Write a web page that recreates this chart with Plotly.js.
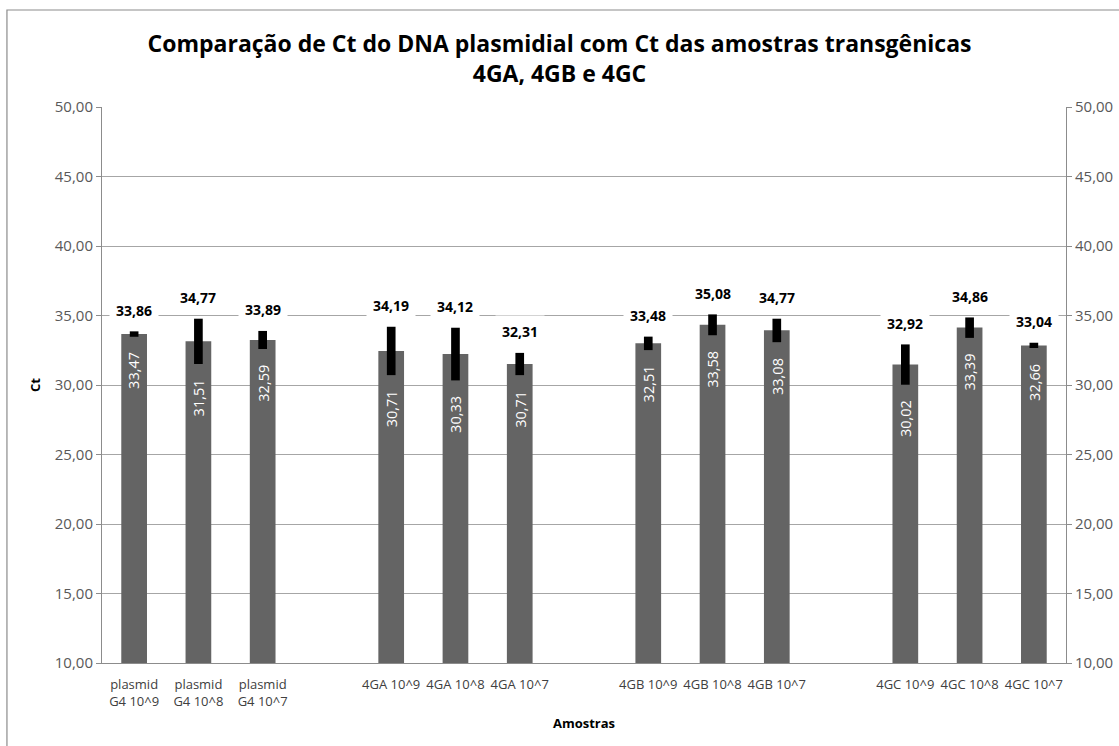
<!DOCTYPE html>
<html>
<head>
<meta charset="utf-8">
<script src="https://cdn.plot.ly/plotly-3.0.1.min.js"></script>
<style>
  body { margin: 0; background: #fff; }
  #chart { width: 1119px; height: 746px; }
</style>
</head>
<body>
<div id="chart"></div>
<script>
// ---- data ----
const categories = [
  "plasmid<br>G4 10^9", "plasmid<br>G4 10^8", "plasmid<br>G4 10^7",
  "4GA 10^9", "4GA 10^8", "4GA 10^7",
  "4GB 10^9", "4GB 10^8", "4GB 10^7",
  "4GC 10^9", "4GC 10^8", "4GC 10^7"
];
const ctMean = [33.67, 33.14, 33.24, 32.45, 32.23, 31.51, 33.00, 34.33, 33.93, 31.47, 34.13, 32.85];
const ctMin  = [33.47, 31.51, 32.59, 30.71, 30.33, 30.71, 32.51, 33.58, 33.08, 30.02, 33.39, 32.66];
const ctMax  = [33.86, 34.77, 33.89, 34.19, 34.12, 32.31, 33.48, 35.08, 34.77, 32.92, 34.86, 33.04];
const yTicks = [10, 15, 20, 25, 30, 35, 40, 45, 50];
const yBase = 10;

// positions: groups of three with an empty slot between groups
const pos = categories.map((c, i) => i + Math.floor(i / 3));
const fmt = v => v.toFixed(2).replace('.', ',');

const FONT = '"Open Sans", "Noto Sans", sans-serif';
const GRID = '#a6a6a6';
const AXIS = '#8c8c8c';

const meanBars = {
  type: 'bar', x: pos, base: yBase, y: ctMean.map(v => v - yBase),
  width: 0.4, marker: { color: '#646464' },
  hoverinfo: 'skip', showlegend: false
};

const rangeBars = {
  type: 'bar', x: pos, base: ctMin, y: ctMax.map((v, i) => v - ctMin[i]),
  width: 0.135, marker: { color: '#000000' },
  hoverinfo: 'skip', showlegend: false
};

const rightAxisTrace = {
  type: 'scatter', mode: 'markers', x: pos, y: ctMean, yaxis: 'y2',
  marker: { opacity: 0 }, hoverinfo: 'skip', showlegend: false
};

const annotations = [];
ctMax.forEach((v, i) => {
  annotations.push({
    x: pos[i], y: v, xref: 'x', yref: 'y',
    text: '<b>' + fmt(v) + '</b>', showarrow: false,
    yshift: 21, yanchor: 'middle',
    bgcolor: '#ffffff', borderpad: 6,
    font: { family: FONT, size: 14, color: '#000000' }
  });
});
ctMin.forEach((v, i) => {
  annotations.push({
    x: pos[i], y: v, xref: 'x', yref: 'y',
    text: fmt(v), showarrow: false, textangle: -90,
    yshift: -34, yanchor: 'middle',
    font: { family: FONT, size: 14.5, color: '#ffffff' }
  });
});

const layout = {
  width: 1119, height: 746,
  paper_bgcolor: '#ffffff', plot_bgcolor: '#ffffff',
  margin: { l: 102, r: 53, t: 107, b: 83, pad: 0 },
  separators: ',.',
  barmode: 'overlay',
  showlegend: false,
  font: { family: FONT, color: '#404040' },
  title: {
    text: '<b>Comparação de Ct do DNA plasmidial com Ct das amostras transgênicas<br>4GA, 4GB e 4GC</b>',
    font: { family: FONT, size: 23, color: '#000000' },
    x: 0.5, xanchor: 'center', xref: 'container',
    y: 1 - 52 / 746, yanchor: 'top', yref: 'container'
  },
  xaxis: {
    range: [-0.5, 14.5], tickmode: 'array', tickvals: pos, ticktext: categories,
    showgrid: false, zeroline: false, showline: true, linecolor: AXIS, linewidth: 1,
    ticks: '', ticklabelstandoff: 9, tickangle: 0,
    tickfont: { family: FONT, size: 13, color: '#404040' },
    title: { text: '<b>Amostras</b>', font: { family: FONT, size: 13, color: '#000000' }, standoff: 10 },
    fixedrange: true
  },
  yaxis: {
    range: [10, 50], tickmode: 'array', tickvals: yTicks, tickformat: '.2f',
    showgrid: true, gridcolor: GRID, gridwidth: 1, zeroline: false,
    showline: true, linecolor: AXIS, linewidth: 1,
    ticks: 'outside', ticklen: 5, tickcolor: AXIS,
    tickfont: { family: FONT, size: 15, color: '#595959' },
    title: { text: '<b>Ct</b>', font: { family: FONT, size: 13, color: '#000000' }, standoff: 11 },
    fixedrange: true
  },
  yaxis2: {
    overlaying: 'y', side: 'right', anchor: 'x',
    range: [10, 50], tickmode: 'array', tickvals: yTicks, tickformat: '.2f',
    showgrid: false, zeroline: false, showline: true, linecolor: AXIS, linewidth: 1,
    ticks: 'outside', ticklen: 5, tickcolor: AXIS,
    tickfont: { family: FONT, size: 15, color: '#595959' },
    fixedrange: true
  },
  shapes: [{
    type: 'rect', xref: 'paper', yref: 'paper',
    x0: -0.0986, x1: 1.06, y0: -0.16, y1: 1.1745,
    line: { color: '#8c8c8c', width: 1.2 }, fillcolor: 'rgba(0,0,0,0)', layer: 'below'
  }],
  annotations: annotations
};

Plotly.newPlot('chart', [meanBars, rangeBars, rightAxisTrace], layout, { displayModeBar: false, staticPlot: true });
</script>
</body>
</html>
